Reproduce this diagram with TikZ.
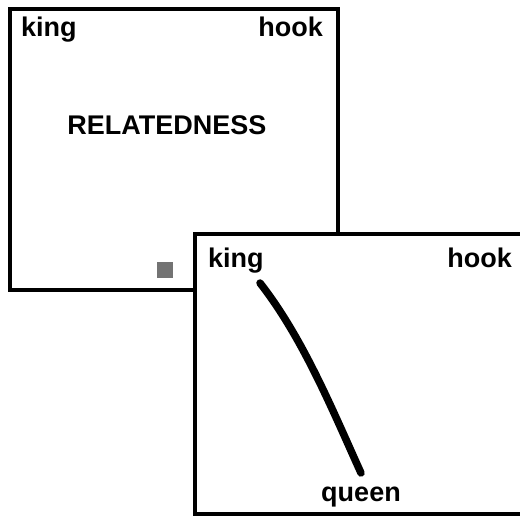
\documentclass[tikz,border=0pt]{standalone}
\usepackage{fontspec}
\setmainfont{Liberation Sans}
\begin{document}
\begin{tikzpicture}[x=1pt,y=-1pt,
  frame/.style={draw=black,line width=4.5pt,fill=white},
  word/.style={font=\fontsize{27}{30}\selectfont\bfseries,inner sep=0pt},
  stroke/.style={line width=7.5pt,line cap=round}]
\useasboundingbox[fill=white] (0,0) rectangle (520,516);
% first screen
\draw[frame] (10,9) rectangle (338,290);
\node[word,anchor=base west] (k1) at (21,37) {king};
\node[word,anchor=base east] (h1) at (323,37) {hook};
\node[word,anchor=base] (rel) at (167,135) {RELATEDNESS};
\node[fill=black!55,minimum size=16pt,inner sep=0pt] (sq) at (165,270) {};
% second screen
\draw[frame] (195,234) rectangle (540,514);
\node[word,anchor=base west] (k2) at (208,267) {king};
\node[word,anchor=base east] (h2) at (512,267) {hook};
\node[word,anchor=base] (q2) at (361,501) {queen};
\coordinate (s) at (260,283);
\coordinate (e) at (361,473);
\draw[stroke] (s) .. controls (303,338) and (332,409) .. (e);
\end{tikzpicture}
\end{document}
